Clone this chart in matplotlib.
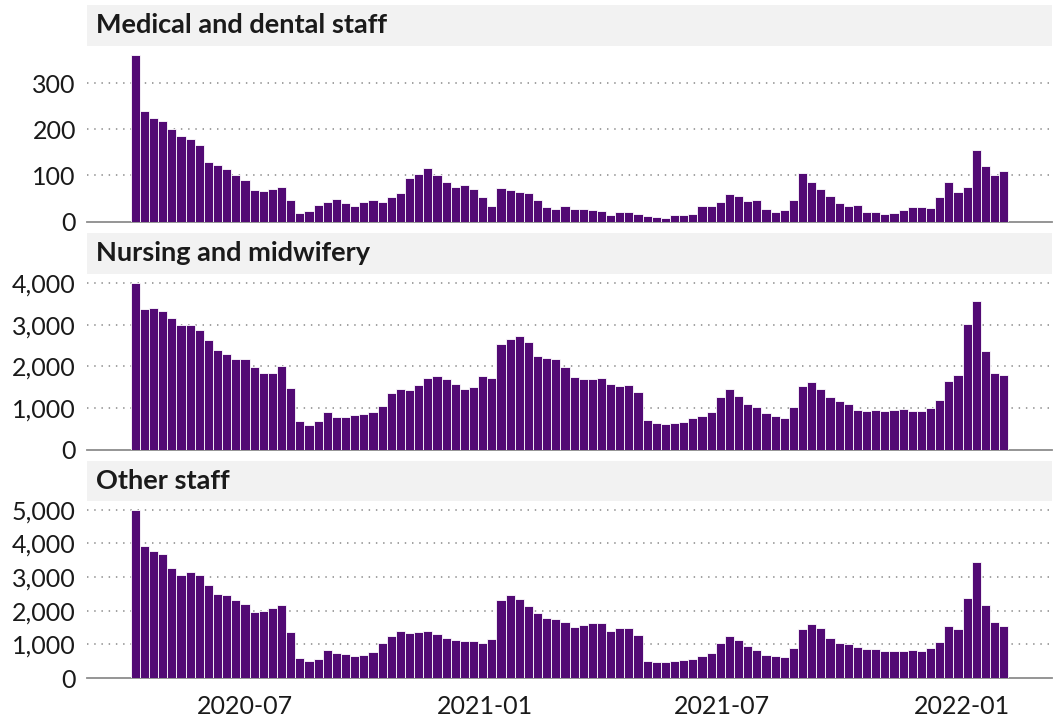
import numpy as np
import matplotlib
matplotlib.use('Agg')
import matplotlib.pyplot as plt
import matplotlib.dates as mdates
import pandas as pd
from matplotlib.ticker import FuncFormatter

plt.rcParams['font.family'] = ['Lato', 'DejaVu Sans']

weeks = pd.date_range('2020-04-08', periods=96, freq='7D')

medical = [360, 239, 224, 217, 201, 185, 180, 167, 129, 122, 114, 101, 91, 68, 67, 70, 74, 48, 19, 24,
           37, 42, 50, 40, 34, 43, 46, 43, 53, 62, 94, 104, 116, 101, 86, 76, 80, 70, 53, 33,
           72, 69, 64, 62, 48, 32, 27, 35, 27, 28, 25, 24, 14, 20, 22, 17, 12, 11, 9, 14,
           14, 17, 35, 33, 42, 60, 55, 45, 47, 27, 22, 26, 46, 105, 85, 70, 55, 40, 34, 37,
           22, 20, 17, 19, 26, 31, 31, 29, 53, 86, 64, 75, 156, 121, 102, 109]

nursing = [4010, 3392, 3416, 3336, 3176, 3000, 3000, 2888, 2648, 2408, 2304, 2184, 2168, 1992, 1848, 1848,
           2008, 1488, 696, 592, 688, 904, 792, 776, 832, 848, 904, 1040, 1368, 1448, 1424, 1544,
           1720, 1768, 1696, 1568, 1448, 1496, 1760, 1712, 2544, 2672, 2728, 2592, 2248, 2200, 2176, 1992,
           1736, 1696, 1704, 1728, 1584, 1536, 1552, 1392, 704, 632, 616, 632, 672, 768, 800, 912,
           1264, 1464, 1280, 1104, 1016, 888, 800, 768, 1024, 1528, 1616, 1448, 1264, 1160, 1096, 952,
           920, 944, 936, 944, 968, 936, 936, 992, 1200, 1656, 1784, 3032, 3568, 2360, 1848, 1784]

other = [4980, 3920, 3782, 3673, 3257, 3059, 3138, 3069, 2772, 2495, 2475, 2307, 2188, 1970, 2000, 2069,
         2158, 1366, 584, 505, 574, 822, 743, 703, 653, 683, 772, 1030, 1238, 1386, 1327, 1366,
         1386, 1297, 1198, 1119, 1099, 1099, 1040, 1158, 2327, 2465, 2356, 2148, 1921, 1782, 1752, 1653,
         1515, 1564, 1643, 1634, 1386, 1485, 1495, 1287, 515, 475, 485, 495, 525, 574, 644, 752,
         1030, 1238, 1129, 941, 822, 673, 644, 624, 901, 1455, 1594, 1495, 1198, 1040, 1020, 911,
         851, 851, 812, 812, 812, 822, 802, 891, 1069, 1544, 1455, 2366, 3445, 2168, 1653, 1544]

titles = ['Medical and dental staff', 'Nursing and midwifery', 'Other staff']
series = [medical, nursing, other]
yticks = [[0, 100, 200, 300], [0, 1000, 2000, 3000, 4000], [0, 1000, 2000, 3000, 4000, 5000]]
xticks = pd.to_datetime(['2020-07-01', '2021-01-01', '2021-07-01', '2022-01-01'])

W, H = 1057, 720
fig = plt.figure(figsize=(W / 100, H / 100), dpi=100)

def px_axes(left, top, right, bottom):
    return fig.add_axes([left / W, 1 - bottom / H, (right - left) / W, (bottom - top) / H])

# pixel boxes (top of strip, top of panel, bottom of panel)
boxes = [(4.7, 47, 221.7), (233, 274.5, 449.7), (461, 502, 678)]
bar_color = '#520a74'
x_lo = weeks[0] - pd.Timedelta(days=37)
x_hi = weeks[-1] + pd.Timedelta(days=37)

for i in range(3):
    s_top, p_top, p_bot = boxes[i]

    # strip
    sax = px_axes(87, s_top, 1052, p_top - 1)
    sax.set_facecolor('#f2f2f2')
    sax.set_xticks([])
    sax.set_yticks([])
    for sp in sax.spines.values():
        sp.set_visible(False)
    sax.text(9 / 965, 0.5, titles[i], transform=sax.transAxes, ha='left', va='center',
             fontsize=19.5, fontweight='bold', color='#1a1a1a')

    # panel
    ax = px_axes(87, p_top, 1052, p_bot)
    ax.bar(weeks, series[i], width=7, color=bar_color, edgecolor='white', linewidth=0.6, zorder=3)
    ax.set_xlim(x_lo, x_hi)
    ax.set_ylim(0, max(series[i]) * 1.05)
    ax.set_yticks(yticks[i])
    ax.yaxis.set_major_formatter(FuncFormatter(lambda v, p: f'{int(v):,}'))
    for t in yticks[i][1:]:
        ax.axhline(t, color='#9a9a9a', lw=1.3, linestyle=(0, (0.8, 3.2)), zorder=1)
    for sp in ['top', 'right', 'left']:
        ax.spines[sp].set_visible(False)
    ax.spines['bottom'].set_color('#8c8c8c')
    ax.spines['bottom'].set_linewidth(1.3)
    ax.tick_params(axis='both', length=0, labelsize=18, colors='#1a1a1a')
    ax.tick_params(axis='y', pad=8)
    ax.tick_params(axis='x', pad=12)
    ax.set_xticks(xticks)
    if i == 2:
        ax.xaxis.set_major_formatter(mdates.DateFormatter('%Y-%m'))
    else:
        ax.set_xticklabels([])

plt.savefig('out.png', dpi=100)
